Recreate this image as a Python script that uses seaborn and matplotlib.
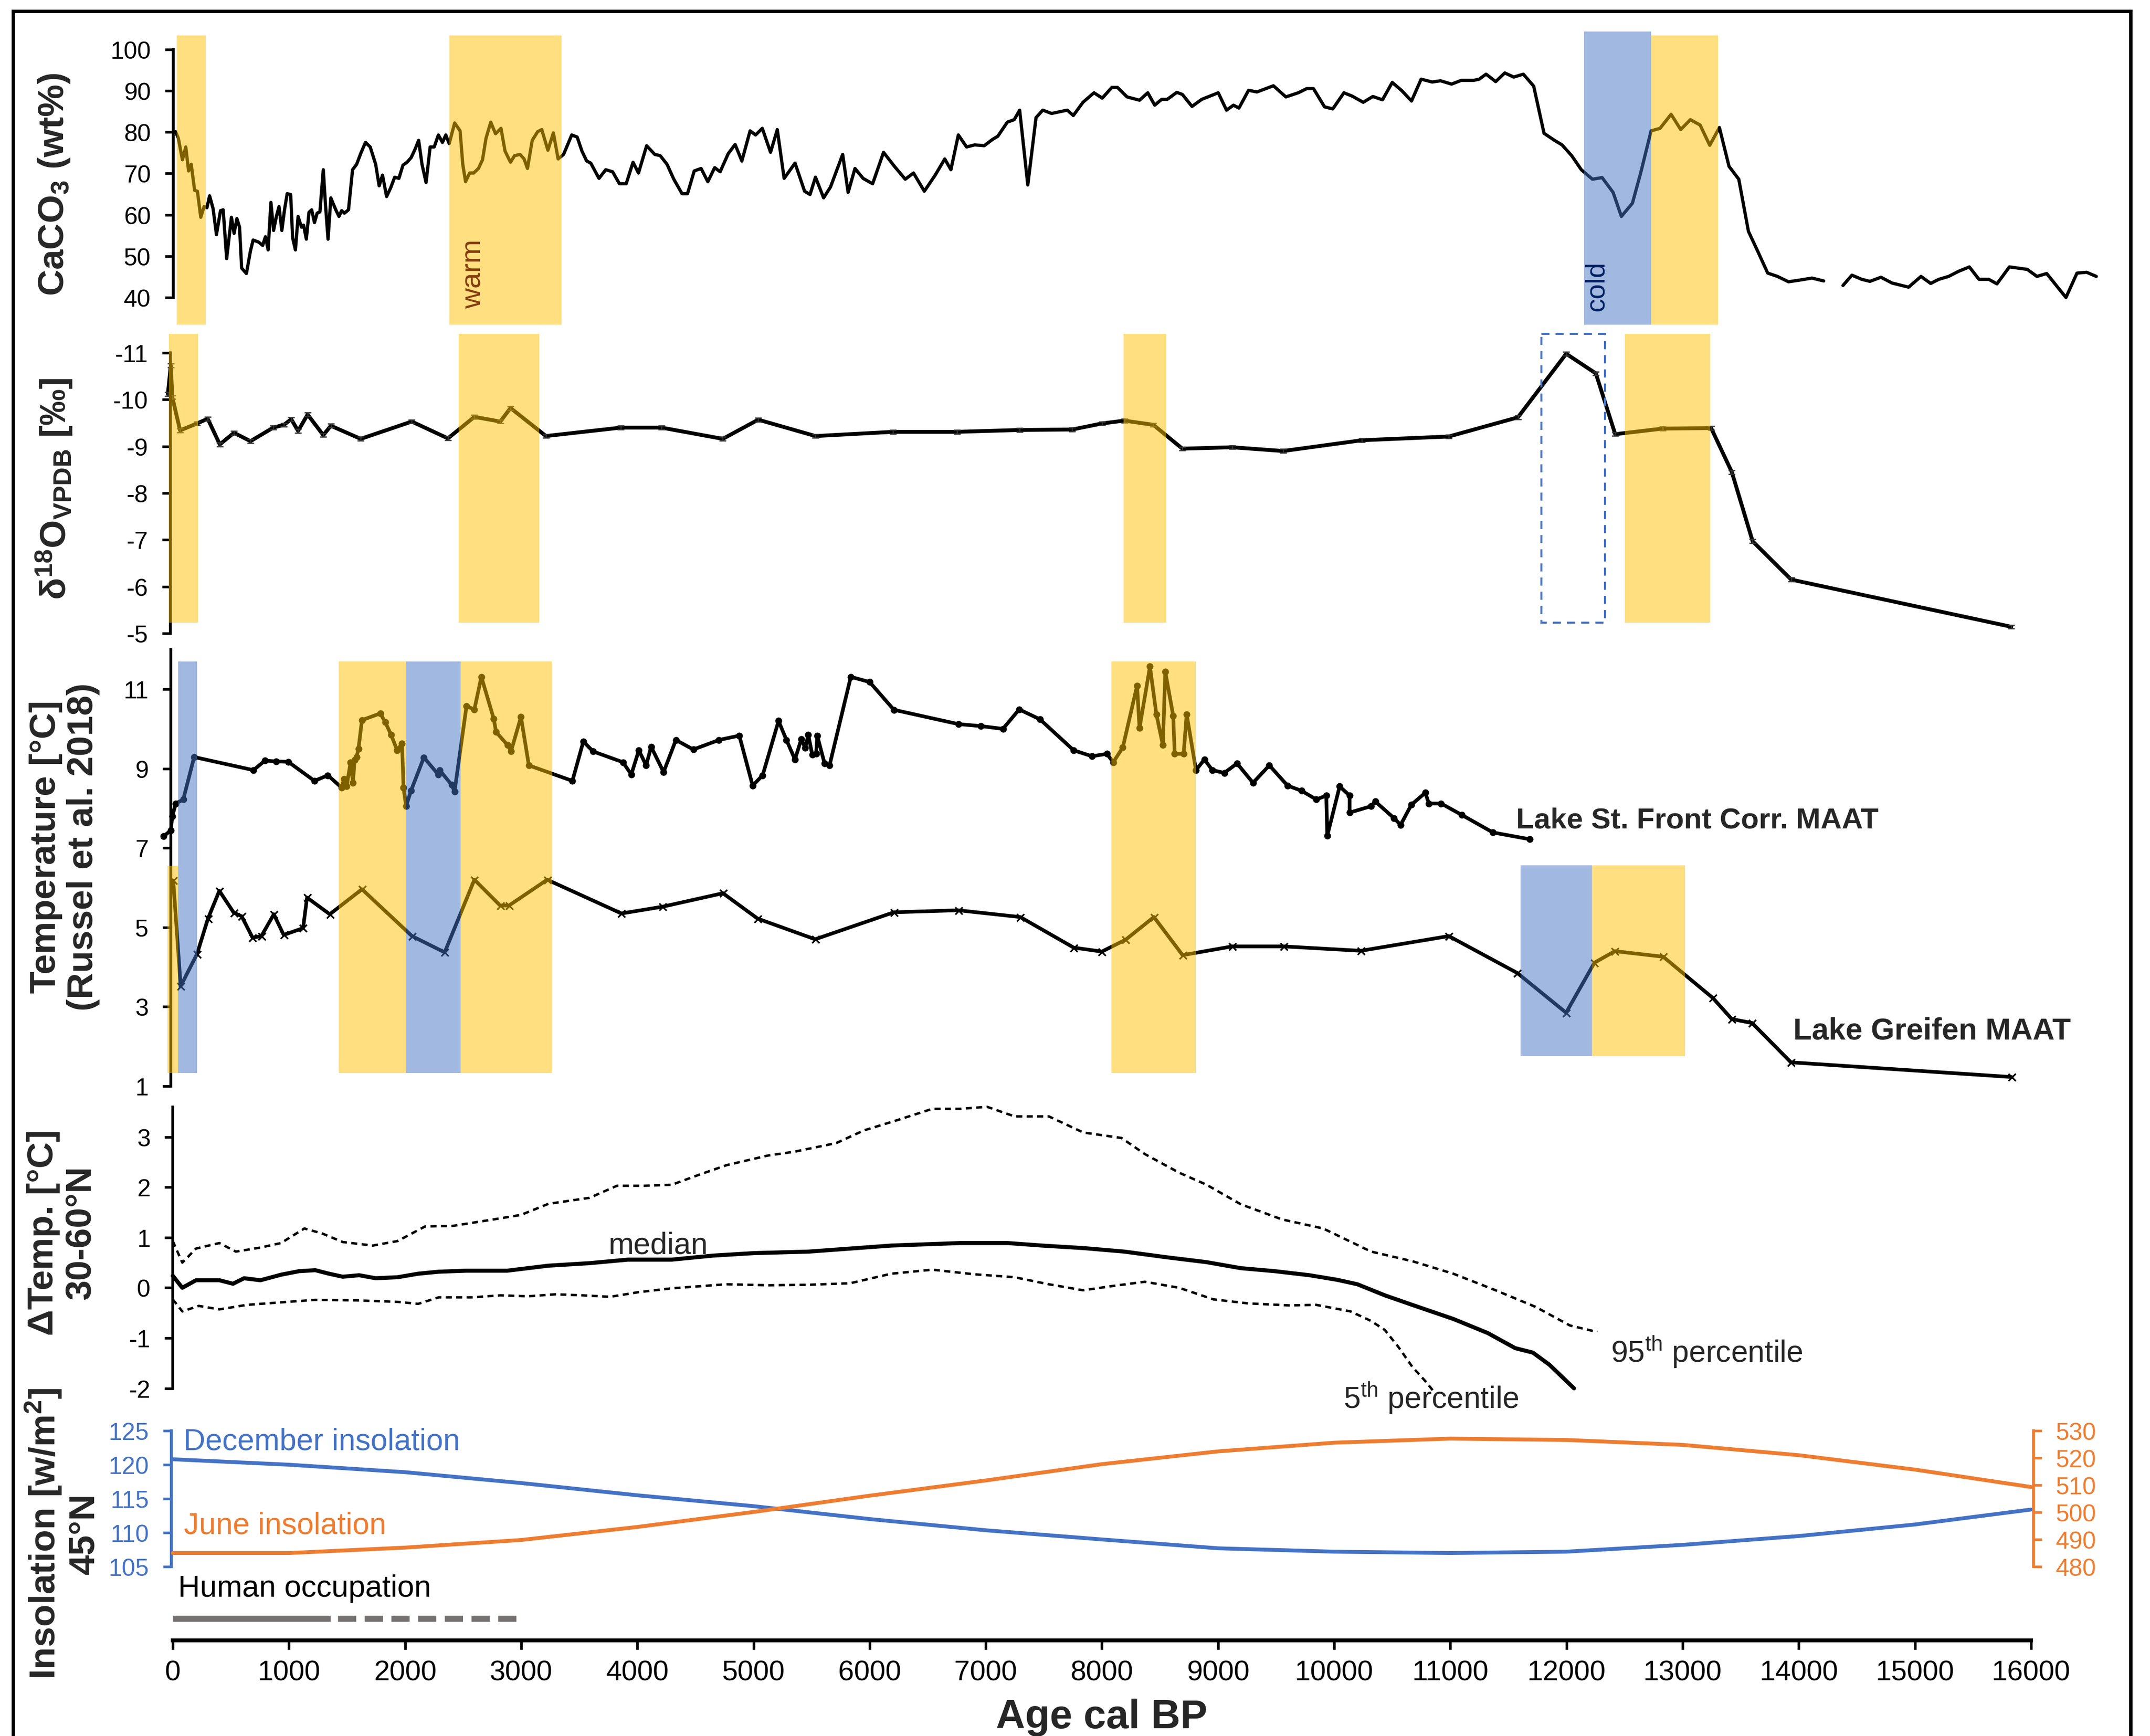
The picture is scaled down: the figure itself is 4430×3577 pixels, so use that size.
import numpy as np
import pandas as pd
import matplotlib.pyplot as plt
import seaborn as sns
from matplotlib.lines import Line2D
from matplotlib.patches import Rectangle

# ---------------- data (age in cal BP) ----------------
caco3 = np.array([
    (24, 80.1), (48, 78.5), (83, 73.3), (112, 76.4), (136, 70.6), (159, 72.2), (188, 65.9), (212, 65.7),
    (241, 59.4), (270, 62.0), (294, 61.7), (317, 64.6), (347, 61.5), (376, 55.2), (411, 61.0), (434, 61.2),
    (464, 49.4), (505, 59.4), (528, 55.5), (552, 59.1), (575, 57.0), (593, 47.1), (634, 45.8), (669, 51.3),
    (692, 53.9), (739, 53.4), (774, 52.6), (798, 54.7), (821, 51.5), (845, 63.0), (868, 56.2), (892, 59.6),
    (915, 62.0), (939, 56.2), (962, 61.2), (985, 65.1), (1015, 64.9), (1032, 54.4), (1056, 51.5), (1079, 59.6),
    (1108, 57.0), (1126, 57.5), (1150, 54.1), (1173, 60.6), (1196, 61.2), (1220, 58.1), (1243, 60.4), (1267, 60.7),
    (1296, 70.9), (1314, 62.8), (1337, 54.1), (1361, 64.1), (1384, 62.5), (1407, 61.0), (1431, 59.6), (1454, 61.0),
    (1478, 60.4), (1513, 61.2), (1548, 70.9), (1583, 72.2), (1618, 74.8), (1659, 77.5), (1700, 76.4), (1747, 72.2),
    (1777, 67.0), (1806, 69.6), (1841, 64.4), (1876, 66.5), (1911, 69.1), (1947, 68.8), (1982, 72.0), (2017, 72.7),
    (2052, 73.8), (2087, 75.9), (2117, 78.0), (2146, 72.2), (2181, 67.8), (2216, 76.4), (2251, 76.4), (2287, 79.3),
    (2322, 77.5), (2351, 79.3), (2380, 77.2), (2427, 82.2), (2474, 80.3), (2497, 72.2), (2521, 68.0), (2556, 70.1),
    (2591, 70.1), (2632, 71.2), (2667, 73.3), (2697, 78.5), (2738, 82.4), (2779, 79.6), (2826, 80.9), (2861, 75.4),
    (2908, 72.7), (2943, 74.3), (2990, 74.6), (3025, 73.5), (3054, 71.2), (3095, 78.0), (3142, 80.1), (3177, 80.6),
    (3230, 75.6), (3277, 79.8), (3318, 73.5), (3365, 74.6), (3435, 79.3), (3482, 78.8), (3523, 75.4), (3564, 73.0),
    (3599, 72.5), (3670, 68.8), (3728, 70.9), (3787, 70.4), (3846, 67.5), (3904, 67.5), (3963, 72.7), (4010, 70.1),
    (4080, 76.7), (4150, 74.6), (4197, 74.3), (4256, 72.2), (4314, 68.6), (4385, 65.1), (4432, 65.1), (4490, 70.6),
    (4549, 71.2), (4607, 68.0), (4666, 71.4), (4713, 70.4), (4783, 74.8), (4842, 77.0), (4900, 73.0), (4971, 80.3),
    (5018, 79.3), (5076, 80.9), (5147, 75.1), (5205, 80.6), (5264, 68.8), (5358, 72.5), (5440, 65.7), (5487, 64.9),
    (5534, 69.1), (5604, 64.1), (5663, 66.7), (5768, 74.6), (5815, 65.4), (5874, 71.2), (5944, 68.8), (6026, 67.5),
    (6120, 75.1), (6214, 71.7), (6307, 68.6), (6378, 70.1), (6471, 65.7), (6565, 69.6), (6647, 73.5), (6700, 70.9),
    (6764, 79.3), (6835, 76.4), (6905, 76.9), (6987, 76.7), (7057, 78.2), (7104, 79.0), (7186, 82.4), (7245, 83.0),
    (7292, 85.3), (7362, 67.2), (7433, 83.5), (7491, 85.3), (7567, 84.5), (7702, 85.3), (7754, 84.0), (7837, 87.2),
    (7932, 89.5), (8003, 88.2), (8086, 90.8), (8134, 90.8), (8217, 88.5), (8324, 87.7), (8395, 89.5), (8455, 86.5),
    (8514, 87.9), (8562, 87.9), (8645, 89.6), (8693, 89.1), (8776, 86.2), (8859, 87.9), (9002, 89.5), (9073, 85.3),
    (9133, 86.5), (9180, 85.8), (9263, 90.1), (9335, 89.7), (9477, 91.2), (9584, 88.5), (9691, 89.5), (9763, 90.5),
    (9822, 90.5), (9917, 86.1), (9988, 85.6), (10084, 89.5), (10155, 88.7), (10250, 87.2), (10333, 88.6),
    (10416, 87.8), (10500, 92.0), (10583, 90.0), (10666, 87.5), (10749, 92.8), (10844, 92.1), (10916, 92.4),
    (11011, 91.6), (11094, 92.5), (11201, 92.5), (11249, 92.8), (11308, 94.0), (11391, 92.2), (11469, 94.3),
    (11546, 93.3), (11629, 94.0), (11718, 91.1), (11807, 79.7), (11897, 78.0), (11962, 76.9), (12045, 74.3),
    (12128, 70.9), (12224, 68.6), (12307, 69.0), (12402, 65.4), (12473, 59.6), (12568, 62.8), (12639, 70.1),
    (12729, 80.3), (12806, 80.9), (12901, 84.3), (12984, 80.6), (13067, 83.0), (13151, 81.7), (13234, 76.8),
    (13317, 81.1), (13400, 71.7), (13484, 68.6), (13567, 56.0), (13650, 51.0), (13733, 45.9), (13817, 45.1),
    (13912, 43.8), (14007, 44.2), (14114, 44.7), (14215, 44.0), (np.nan, np.nan),
    (14381, 42.9), (14458, 45.4), (14542, 44.4), (14613, 43.9), (14708, 44.9), (14803, 43.5), (14946, 42.5),
    (15053, 45.1), (15136, 43.4), (15207, 44.4), (15291, 45.1), (15374, 46.3), (15469, 47.4), (15552, 44.4),
    (15636, 44.4), (15707, 43.3), (15814, 47.4), (15968, 46.8), (16051, 45.1), (16135, 45.8), (16301, 40.0),
    (16396, 45.9), (16479, 46.1), (16562, 45.1),
])

d18o = np.array([
    (-42, -10.12), (-17, -10.73), (-4, -10.05), (63, -9.34), (209, -9.49), (301, -9.59), (405, -9.04),
    (527, -9.29), (669, -9.11), (865, -9.40), (957, -9.46), (1020, -9.58), (1079, -9.33), (1161, -9.68),
    (1296, -9.24), (1361, -9.44), (1618, -9.16), (2058, -9.53), (2369, -9.17), (2597, -9.63), (2820, -9.53),
    (2908, -9.82), (3213, -9.22), (3857, -9.40), (4209, -9.40), (4736, -9.16), (5041, -9.57), (5534, -9.22),
    (6201, -9.31), (6752, -9.31), (7292, -9.35), (7745, -9.36), (8003, -9.49), (8193, -9.55), (8443, -9.46),
    (8693, -8.95), (9121, -8.98), (9561, -8.90), (10238, -9.13), (10987, -9.21), (11582, -9.62),
    (11998, -10.98), (12253, -10.56), (12420, -9.26), (12830, -9.38), (13246, -9.39), (13424, -8.45),
    (13603, -6.97), (13935, -6.15), (15831, -5.14),
])

st_front = np.array([
    (-81, 7.29), (-17, 7.44), (-4, 7.80), (26, 8.12), (90, 8.22), (184, 9.29), (695, 8.96), (793, 9.20),
    (891, 9.18), (994, 9.17), (1220, 8.69), (1335, 8.83), (1454, 8.52), (1475, 8.74), (1497, 8.55), (1531, 9.16),
    (1552, 8.64), (1565, 9.22), (1582, 9.29), (1599, 9.50), (1629, 10.22), (1787, 10.39), (1829, 10.17),
    (1880, 9.85), (1932, 9.46), (1974, 9.63), (1987, 8.52), (2009, 8.05), (2051, 8.44), (2162, 9.28),
    (2286, 8.85), (2298, 8.96), (2401, 8.59), (2426, 8.42), (2529, 10.57), (2597, 10.49), (2657, 11.31),
    (2763, 10.26), (2784, 9.92), (2883, 9.59), (2913, 9.44), (2998, 10.30), (3066, 9.08), (3441, 8.69),
    (3535, 9.68), (3620, 9.43), (3876, 9.16), (3948, 8.85), (4013, 9.46), (4076, 9.08), (4119, 9.55),
    (4226, 8.91), (4332, 9.72), (4482, 9.48), (4703, 9.72), (4878, 9.83), (4993, 8.57), (5079, 8.83),
    (5216, 10.20), (5284, 9.72), (5357, 9.23), (5412, 9.74), (5446, 9.52), (5472, 9.85), (5506, 9.35),
    (5540, 9.37), (5549, 9.83), (5612, 9.13), (5655, 9.08), (5838, 11.31), (6000, 11.18), (6209, 10.48),
    (6764, 10.12), (6956, 10.07), (7148, 10.00), (7288, 10.49), (7467, 10.24), (7757, 9.46), (7915, 9.31),
    (8043, 9.37), (8098, 9.16), (8180, 9.53), (8303, 11.09), (8324, 10.02), (8414, 11.57), (8469, 10.37),
    (8525, 9.59), (8546, 11.44), (8614, 10.33), (8627, 9.37), (8704, 9.37), (8730, 10.37), (8810, 8.96),
    (8883, 9.23), (8951, 8.96), (9054, 8.89), (9164, 9.13), (9301, 8.64), (9442, 9.08), (9599, 8.57),
    (9719, 8.44), (9847, 8.22), (9932, 8.32), (9941, 7.31), (10047, 8.55), (10133, 8.32), (10133, 7.89),
    (10316, 8.05), (10354, 8.17), (10516, 7.75), (10572, 7.58), (10665, 8.09), (10785, 8.39), (10815, 8.12),
    (10921, 8.12), (11100, 7.83), (11367, 7.39), (11683, 7.22),
])

greifen = np.array([
    (4, 6.18), (68, 3.52), (209, 4.33), (303, 5.22), (401, 5.92), (525, 5.37), (593, 5.28), (687, 4.74),
    (763, 4.78), (870, 5.33), (955, 4.81), (1122, 4.98), (1156, 5.75), (1352, 5.33), (1629, 5.96), (2060, 4.78),
    (2341, 4.37), (2597, 6.20), (2819, 5.55), (2895, 5.55), (3224, 6.20), (3863, 5.35), (4217, 5.52),
    (4737, 5.86), (5036, 5.22), (5531, 4.70), (6209, 5.38), (6764, 5.43), (7297, 5.26), (7757, 4.49),
    (8000, 4.39), (8205, 4.69), (8448, 5.26), (8695, 4.30), (9122, 4.52), (9565, 4.52), (10230, 4.41),
    (10987, 4.78), (11577, 3.85), (11997, 2.85), (12241, 4.11), (12417, 4.40), (12833, 4.26), (13261, 3.22),
    (13424, 2.69), (13599, 2.59), (13933, 1.60), (15833, 1.23),
])

dt_median = np.array([
    (0, 0.24), (82, 0.0), (200, 0.15), (401, 0.15), (519, 0.08), (614, 0.19), (755, 0.15), (932, 0.26),
    (1086, 0.33), (1227, 0.35), (1345, 0.28), (1464, 0.22), (1605, 0.25), (1747, 0.19), (1936, 0.21),
    (2113, 0.28), (2290, 0.32), (2526, 0.34), (2880, 0.34), (3234, 0.44), (3589, 0.49), (3919, 0.56),
    (4297, 0.56), (4651, 0.64), (5006, 0.69), (5478, 0.72), (5832, 0.78), (6186, 0.84), (6540, 0.87),
    (6776, 0.89), (7189, 0.89), (7485, 0.84), (7839, 0.79), (8193, 0.72), (8547, 0.61), (8901, 0.51),
    (9197, 0.39), (9491, 0.33), (9787, 0.25), (10023, 0.16), (10200, 0.07), (10436, -0.15), (10672, -0.34),
    (11026, -0.62), (11322, -0.90), (11558, -1.20), (11711, -1.29), (11853, -1.53), (12065, -2.0),
])

dt_p95 = np.array([
    (0, 0.93), (82, 0.50), (200, 0.78), (401, 0.89), (543, 0.72), (755, 0.80), (932, 0.89), (1133, 1.18),
    (1287, 1.08), (1464, 0.91), (1723, 0.84), (1936, 0.93), (2172, 1.22), (2408, 1.23), (2762, 1.36),
    (2998, 1.45), (3234, 1.67), (3589, 1.79), (3825, 2.03), (4061, 2.03), (4297, 2.05), (4533, 2.25),
    (4769, 2.44), (5123, 2.63), (5359, 2.71), (5714, 2.88), (5950, 3.13), (6245, 3.34), (6540, 3.56),
    (6776, 3.56), (7012, 3.60), (7248, 3.41), (7543, 3.41), (7839, 3.09), (8169, 2.98), (8370, 2.66),
    (8665, 2.29), (8901, 2.05), (9197, 1.66), (9551, 1.36), (9905, 1.18), (10318, 0.72), (10672, 0.53),
    (11026, 0.28), (11380, -0.04), (11734, -0.38), (12030, -0.75), (12266, -0.88),
])

dt_p05 = np.array([
    (0, -0.23), (82, -0.47), (224, -0.36), (401, -0.43), (637, -0.34), (873, -0.30), (1227, -0.24),
    (1582, -0.25), (1936, -0.28), (2113, -0.32), (2290, -0.19), (2585, -0.19), (2821, -0.15), (3057, -0.17),
    (3293, -0.13), (3529, -0.15), (3766, -0.18), (4002, -0.09), (4297, -0.01), (4769, 0.07), (5123, 0.05),
    (5478, 0.06), (5832, 0.09), (6186, 0.28), (6540, 0.36), (6894, 0.27), (7248, 0.21), (7543, 0.07),
    (7839, -0.05), (8075, 0.03), (8370, 0.12), (8665, 0.0), (8960, -0.23), (9256, -0.31), (9610, -0.35),
    (9846, -0.34), (10141, -0.47), (10318, -0.66), (10436, -0.84), (10554, -1.18), (10672, -1.57),
    (10790, -1.87), (10849, -2.04),
])

ins_age = np.arange(0, 16001, 1000)
dec_ins = [120.8, 120.0, 118.9, 117.3, 115.5, 113.9, 112.0, 110.35, 109.0, 107.7, 107.2, 107.0, 107.2,
           108.2, 109.5, 111.2, 113.4]
jun_ins = [485.0, 485.0, 487.0, 489.8, 494.6, 500.1, 506.1, 511.7, 517.7, 522.4, 525.6, 527.1, 526.6,
           524.8, 521.0, 515.7, 509.3]

occupation_solid = [0, 1360]
occupation_dashed = [1420, 3030]

# shaded intervals (age start, age end)
caco3_warm = [(33, 284), (2382, 3347), (12729, 13306)]
caco3_cold = [(12152, 12729)]
d18o_warm = [(-33, 217), (2461, 3155), (8186, 8554), (12503, 13239)]
d18o_box = (11785, 12332)
temp_warm = [(1429, 2010), (2478, 3268), (8082, 8809)]
temp_cold = [(46, 209), (2010, 2478)]
temp_low_warm = [(-46, 46)]
temp_low_warm_r = [(12219, 13021)]
temp_low_cold_r = [(11605, 12219)]

# ---------------- style ----------------
sns.set_theme(style="white")
plt.rcParams['font.family'] = ['Liberation Sans', 'DejaVu Sans']
plt.rcParams['mathtext.fontset'] = 'custom'
plt.rcParams['mathtext.rm'] = 'Liberation Sans'
plt.rcParams['mathtext.bf'] = 'Liberation Sans:bold'
plt.rcParams['mathtext.default'] = 'regular'
plt.rcParams['axes.unicode_minus'] = False

W, H, DPI = 4430, 3578, 300
GOLD, BLUE, ORANGE = '#FFC000', '#4472C4', '#ED7D31'
X_LEFT, X_RIGHT, X_ZERO, PX_PER_YR = 300, 4380, 356, 0.2393

fig = plt.figure(figsize=(W / DPI, H / DPI), dpi=DPI)


def fx(px):
    return px / W


def fy(px):
    return 1 - px / H


def panel(top, bottom, ref_a, ref_b):
    (pa, va), (pb, vb) = ref_a, ref_b
    k = (vb - va) / (pb - pa)
    ax = fig.add_axes([fx(X_LEFT), fy(bottom), (X_RIGHT - X_LEFT) / W, (bottom - top) / H])
    ax.set_xlim((X_LEFT - X_ZERO) / PX_PER_YR, (X_RIGHT - X_ZERO) / PX_PER_YR)
    ax.set_ylim(va + (bottom - pa) * k, va + (top - pa) * k)
    ax.patch.set_visible(False)
    for s in ['top', 'right', 'bottom']:
        ax.spines[s].set_visible(False)
    ax.spines['left'].set_linewidth(1.4)
    ax.spines['left'].set_color('black')
    ax.set_xticks([])
    ax.tick_params(axis='y', left=True, direction='out', length=4, width=1.3,
                   labelsize=12, pad=7, colors='black')
    return ax


def shade(ax, spans, lo, hi, color):
    for a0, a1 in spans:
        ax.fill_between([a0, a1], lo, hi, color=color, alpha=0.5, lw=0, zorder=3)


# ---------------- panel 1: CaCO3 ----------------
ax1 = panel(60, 680, (102.7, 100), (614, 40))
df = pd.DataFrame(caco3, columns=['age', 'val'])
df['seg'] = df['val'].isna().cumsum()
df = df.dropna()
sns.lineplot(data=df, x='age', y='val', units='seg', estimator=None, sort=False,
             color='black', lw=1.6, ax=ax1, zorder=2)
shade(ax1, caco3_warm, 33.4, 103.4, GOLD)
shade(ax1, caco3_cold, 33.4, 104.3, BLUE)
ax1.set_yticks(range(40, 101, 10))
ax1.spines['left'].set_bounds(40, 100)
ax1.spines['left'].set_position(('data', 4))
ax1.text(2590, 37.4, 'warm', rotation=90, ha='center', va='bottom', fontsize=14, color='#843C0C', zorder=5)
ax1.text(12261, 36.8, 'cold', rotation=90, ha='center', va='bottom', fontsize=13.5, color='#002060', zorder=5)

# ---------------- panel 2: d18O ----------------
ax2 = panel(685, 1310, (728, -11), (1306, -5))
sns.lineplot(x=d18o[:, 0], y=d18o[:, 1], sort=False, estimator=None, color='black', lw=1.9, ax=ax2, zorder=2)
ax2.errorbar(d18o[:, 0], d18o[:, 1], yerr=0.04, fmt='none', ecolor='#333333', elinewidth=0.6,
             capsize=1.6, capthick=0.6, zorder=2)
shade(ax2, d18o_warm, -11.40, -5.23, GOLD)
ax2.add_patch(Rectangle((d18o_box[0], -11.40), d18o_box[1] - d18o_box[0], 6.17, fill=False,
                        edgecolor=BLUE, lw=1.0, linestyle=(0, (4, 3)), zorder=3))
ax2.set_yticks(range(-11, -4))
ax2.spines['left'].set_bounds(-11, -5)
ax2.spines['left'].set_position(('data', -20))

# ---------------- panel 3: temperature ----------------
ax3 = panel(1335, 2245, (1421, 11), (2239, 1))
sns.lineplot(x=st_front[:, 0], y=st_front[:, 1], sort=False, estimator=None, color='black', lw=1.8,
             marker='o', ms=3.4, mew=0, ax=ax3, zorder=2)
sns.lineplot(x=greifen[:, 0], y=greifen[:, 1], sort=False, estimator=None, color='black', lw=1.8,
             marker='x', ms=3.6, mew=0.8, mec='black', ax=ax3, zorder=2)
shade(ax3, temp_warm, 1.33, 11.70, GOLD)
shade(ax3, temp_cold, 1.33, 11.70, BLUE)
shade(ax3, temp_low_warm, 1.33, 6.55, GOLD)
shade(ax3, temp_low_cold_r, 1.76, 6.56, BLUE)
shade(ax3, temp_low_warm_r, 1.76, 6.56, GOLD)
ax3.set_yticks(range(1, 12, 2))
ax3.spines['left'].set_bounds(1, 12)
ax3.spines['left'].set_position(('data', -17))
ax3.text(11567, 7.70, 'Lake St. Front Corr. MAAT', ha='left', va='center', fontsize=14.5, fontweight='bold')
ax3.text(13954, 2.39, 'Lake Greifen MAAT', ha='left', va='center', fontsize=15, fontweight='bold')

# ---------------- panel 4: delta temperature ----------------
ax4 = panel(2260, 2880, (2343.75, 3), (2861.6, -2))
sns.lineplot(x=dt_median[:, 0], y=dt_median[:, 1], sort=False, estimator=None, color='black', lw=2.0, ax=ax4)
sns.lineplot(x=dt_p95[:, 0], y=dt_p95[:, 1], sort=False, estimator=None, color='black', lw=1.2,
             linestyle=(0, (2.5, 1.8)), ax=ax4)
sns.lineplot(x=dt_p05[:, 0], y=dt_p05[:, 1], sort=False, estimator=None, color='black', lw=1.2,
             linestyle=(0, (2.5, 1.8)), ax=ax4)
ax4.set_yticks(range(-2, 4))
ax4.spines['left'].set_bounds(-2, 3.6)
ax4.spines['left'].set_position(('data', 0))
ax4.text(4179, 0.84, 'median', ha='center', va='center', fontsize=15)
ax4.text(12383, -1.27, '95$^{th}$ percentile', ha='left', va='center', fontsize=15)
ax4.text(10080, -2.19, '5$^{th}$ percentile', ha='left', va='center', fontsize=15)

# ---------------- panel 5: insolation ----------------
ax5 = panel(2930, 3381, (2949, 125), (3229, 105))
sns.lineplot(x=ins_age, y=dec_ins, color=BLUE, lw=1.9, ax=ax5)
ax5.plot(occupation_solid, [97.36, 97.36], color='#767171', lw=3, solid_capstyle='butt')
ax5.plot(occupation_dashed, [97.36, 97.36], color='#767171', lw=3, linestyle=(0, (3, 1.4)),
         dash_capstyle='butt')
ax5.set_yticks(range(105, 126, 5))
ax5.spines['left'].set_bounds(105, 125)
ax5.spines['left'].set_position(('data', -13))
ax5.spines['left'].set_color(BLUE)
ax5.tick_params(axis='y', colors=BLUE)
ax5.spines['bottom'].set_visible(True)
ax5.spines['bottom'].set_color('black')
ax5.spines['bottom'].set_linewidth(1.9)
ax5.spines['bottom'].set_bounds(0, 16000)
ax5.set_xticks(range(0, 16001, 1000))
ax5.tick_params(axis='x', bottom=True, direction='out', length=4.5, width=1.3, labelsize=14, pad=5,
                colors='black')
ax5.text(92, 123.4, 'December insolation', ha='left', va='center', fontsize=15, color=BLUE)
ax5.text(96, 111.1, 'June insolation', ha='left', va='center', fontsize=15, color=ORANGE)
ax5.text(46, 101.8, 'Human occupation', ha='left', va='center', fontsize=15, color='black')

(pa, va), (pb, vb) = (2949, 530), (3229, 480)
k = (vb - va) / (pb - pa)
ax5r = ax5.twinx()
ax5r.set_ylim(va + (3381 - pa) * k, va + (2930 - pa) * k)
sns.lineplot(x=ins_age, y=jun_ins, color=ORANGE, lw=1.9, ax=ax5r)
for s in ['top', 'left', 'bottom']:
    ax5r.spines[s].set_visible(False)
ax5r.spines['right'].set_bounds(480, 530)
ax5r.spines['right'].set_position(('data', 16022))
ax5r.spines['right'].set_color(ORANGE)
ax5r.spines['right'].set_linewidth(1.4)
ax5r.set_yticks(range(480, 531, 10))
ax5r.tick_params(axis='y', right=True, direction='out', length=4, width=1.3, labelsize=12, pad=7,
                 colors=ORANGE)
for a in (ax1, ax2, ax3, ax4, ax5, ax5r):
    a.set_xlabel('')
    a.set_ylabel('')

# ---------------- labels and frame ----------------
lab = dict(rotation=90, ha='center', va='center', fontsize=18, fontweight='bold', multialignment='center',
           linespacing=1.15)
fig.text(fx(112), fy(380), 'CaCO$_3$ (wt%)', **lab)
fig.text(fx(112), fy(1008), 'δ$^{18}$O$_{VPDB}$ [‰]', **lab)
fig.text(fx(133), fy(1745), 'Temperature [°C]\n(Russel et al. 2018)', **lab)
fig.text(fx(128), fy(2540), 'ΔTemp. [°C]\n30-60°N', **lab)
fig.text(fx(128), fy(3160), 'Insolation [w/m$^2$]\n45°N', **lab)
fig.text(fx(2270), fy(3539), 'Age cal BP', ha='center', va='center', fontsize=20, fontweight='bold')

fig.add_artist(Line2D([fx(26.5), fx(26.5), fx(4390), fx(4390)], [0, fy(23.5), fy(23.5), 0],
                      transform=fig.transFigure, color='black', lw=1.7, solid_joinstyle='miter'))

fig.savefig('out.png', dpi=DPI)
